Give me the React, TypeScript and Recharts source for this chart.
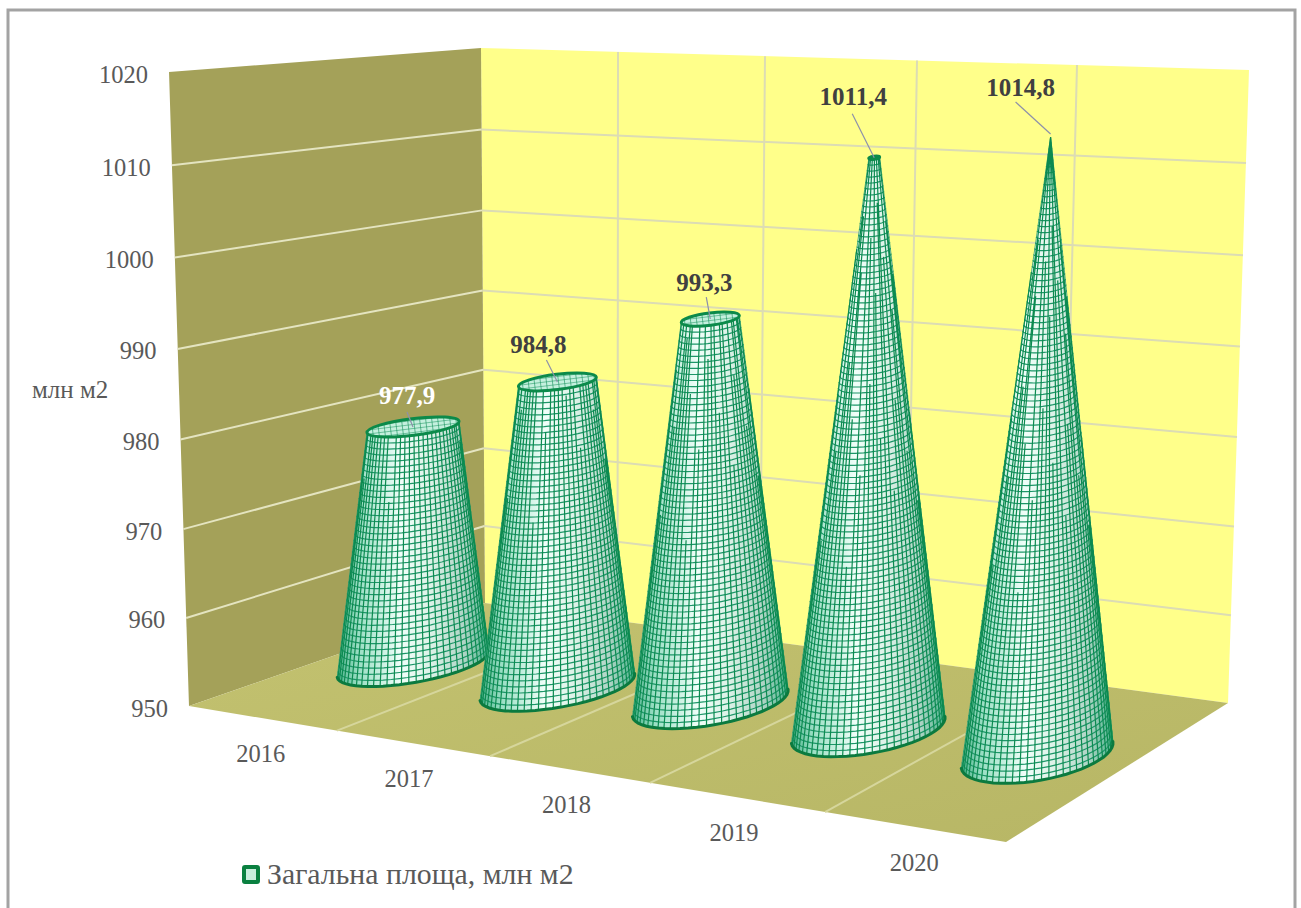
import { Bar, ComposedChart, Customized, LabelList, Legend, XAxis, YAxis } from 'recharts'

const YEARS = ['2016', '2017', '2018', '2019', '2020']
const AREA = [977.9, 984.8, 993.3, 1011.4, 1014.8]
const VALUE_TICKS = [950, 960, 970, 980, 990, 1000, 1010, 1020]
const SERIES_NAME = 'Загальна площа, млн м2'
const UNIT_LABEL = 'млн м2'

const chartData = YEARS.map((year, i) => ({ year, area: AREA[i] }))

const WIDTH = 1301
const HEIGHT = 908
const PLOT = { left: 189, right: 1006, top: 72, bottom: 706 }
const MIN_VALUE = 950
const MAX_VALUE = 1020
const APEX_VALUE = Math.max(...AREA)

const TEXT = '#595959'
const SERIF = '"Liberation Serif", serif'

// fake 3D box: corners of the walls and floor
const BACK = { tl: [481, 48], tr: [1249, 70], bl: [485, 603], br: [1228, 703] }
const FRONT_TOP_LEFT = [169, 72]
const FRONT_BOTTOM_LEFT = [189, 706]
const FRONT_BOTTOM_RIGHT = [1006, 842]
const FLOOR_FRONT_SPLITS = [337, 490, 650, 825]
const BACK_WALL_SPLITS = [618, 765, 917, 1077]

// one entry per category, going from the back of the floor to the front
const DEPTH_SHIFT = [142, 123, 112.5, 107, 112.5]
const DEPTH_LIFT = [-42, -19, -3, 24, 49]
const DEPTH_SCALE = [0.938, 0.968, 0.979, 1.029, 1.053]
const DEPTH_LEAN = [0, 0, 0, 0.0105, 0.0218]
const BASE_RADIUS = [77, 78.5, 79, 78, 77]
const BASE_FLATNESS = [0.24, 0.26, 0.28, 0.3, 0.33]
const LABEL_SHIFT = [
  { dx: -6, dy: -31, lineX: -6, lineY: -15, color: '#ffffff' },
  { dx: -19, dy: -37, lineX: -11, lineY: -22, color: '#404040' },
  { dx: -6, dy: -37, lineX: -4, lineY: -22, color: '#404040' },
  { dx: -21, dy: -61, lineX: -22, lineY: -44, color: '#404040' },
  { dx: -30, dy: -49, lineX: -35, lineY: -32, color: '#404040' },
]
const TICK_SHIFT = [-10, -25, -31, -27, -10]

// vertical foreshortening of the value axis
const foreshorten = (t: number) => t / (1 + 0.034 * (1 - t))
const lerp = (a: number, b: number, s: number) => a + (b - a) * s
const wallY = (top: number, bottom: number, value: number) =>
  bottom - (bottom - top) * foreshorten((value - MIN_VALUE) / (MAX_VALUE - MIN_VALUE))

function Room() {
  const pts = (list: number[][]) => list.map((p) => p.join(',')).join(' ')
  const splitLine = (topX: number, i: number) => {
    const s = (topX - BACK.tl[0]) / (BACK.tr[0] - BACK.tl[0])
    const bottomX = topX + lerp(4, -21, s)
    const topY = lerp(BACK.tl[1], BACK.tr[1], s)
    const bottomY = lerp(BACK.bl[1], BACK.br[1], (bottomX - BACK.bl[0]) / (BACK.br[0] - BACK.bl[0]))
    const frontX = FLOOR_FRONT_SPLITS[i]
    const frontY = FRONT_BOTTOM_LEFT[1] + (frontX - FRONT_BOTTOM_LEFT[0]) * 0.1667
    return (
      <g key={topX}>
        <line x1={topX} y1={topY} x2={bottomX} y2={bottomY} stroke="#dcdcb4" strokeWidth={2} />
        <line x1={bottomX} y1={bottomY} x2={frontX} y2={frontY} stroke="#d6d69c" strokeWidth={2} />
      </g>
    )
  }
  return (
    <g>
      <defs>
        <linearGradient id="coneFill" x1="0" y1="0" x2="1" y2="0">
          <stop offset="0" stopColor="#4fb48e" />
          <stop offset="0.14" stopColor="#9adfc4" />
          <stop offset="0.42" stopColor="#f0fff9" />
          <stop offset="0.62" stopColor="#dcf2e7" />
          <stop offset="0.84" stopColor="#aed4c5" />
          <stop offset="1" stopColor="#4fb48e" />
        </linearGradient>
        <pattern id="coneMesh" width="6" height="4" patternUnits="userSpaceOnUse">
          <rect width="6" height="4" fill="#c4f0de" />
          <path d="M0 0H6M0 0V4" stroke="#119058" strokeWidth="1.2" />
        </pattern>
        <linearGradient id="floorFill" x1="0" y1="0" x2="1" y2="1">
          <stop offset="0" stopColor="#c3c270" />
          <stop offset="1" stopColor="#b7b665" />
        </linearGradient>
      </defs>
      <path d={`M8 ${HEIGHT} V10 H1295 V${HEIGHT}`} fill="none" stroke="#a3a3a3" strokeWidth={3} />
      <polygon points={pts([BACK.tl, BACK.tr, BACK.br, BACK.bl])} fill="#ffff8a" />
      <polygon points={pts([FRONT_TOP_LEFT, BACK.tl, BACK.bl, FRONT_BOTTOM_LEFT])} fill="#a4a159" />
      <polygon points={pts([FRONT_BOTTOM_LEFT, BACK.bl, BACK.br, FRONT_BOTTOM_RIGHT])} fill="url(#floorFill)" />
      {VALUE_TICKS.slice(1, -1).map((v) => {
        const backLeft = wallY(BACK.tl[1], BACK.bl[1], v)
        const s = (v - MIN_VALUE) / (MAX_VALUE - MIN_VALUE)
        return (
          <g key={v}>
            <line
              x1={lerp(FRONT_BOTTOM_LEFT[0], FRONT_TOP_LEFT[0], s)}
              y1={wallY(FRONT_TOP_LEFT[1], FRONT_BOTTOM_LEFT[1], v)}
              x2={lerp(BACK.bl[0], BACK.tl[0], s)}
              y2={backLeft}
              stroke="#e4e4c0"
              strokeWidth={2}
            />
            <line
              x1={lerp(BACK.bl[0], BACK.tl[0], s)}
              y1={backLeft}
              x2={lerp(BACK.br[0], BACK.tr[0], s)}
              y2={wallY(BACK.tr[1], BACK.br[1], v)}
              stroke="#dcdcb4"
              strokeWidth={2}
            />
          </g>
        )
      })}
      {BACK_WALL_SPLITS.map(splitLine)}
    </g>
  )
}

// where a cone really stands once the bar rectangle is pushed into the room
function coneGeometry(x: number, y: number, width: number, height: number, index: number) {
  const cx = x + width / 2 + DEPTH_SHIFT[index]
  const baseY = PLOT.bottom + DEPTH_LIFT[index]
  const rise = height * DEPTH_SCALE[index]
  const value = MIN_VALUE + (height / (PLOT.bottom - PLOT.top)) * (MAX_VALUE - MIN_VALUE)
  const radius = BASE_RADIUS[index]
  const taper = Math.max(APEX_VALUE - value, 0) / (APEX_VALUE - MIN_VALUE)
  return {
    base: { x: cx, y: baseY, a: radius, flat: BASE_FLATNESS[index], rot: -10 },
    top: {
      x: cx + rise * DEPTH_LEAN[index],
      y: baseY - rise,
      a: radius * taper ** 0.9,
      flat: BASE_FLATNESS[index] * 0.75,
      rot: -7,
    },
  }
}

type Ring = { x: number; y: number; a: number; flat: number; rot: number }

const ringAt = (p: Ring, q: Ring, s: number): Ring => ({
  x: lerp(p.x, q.x, s),
  y: lerp(p.y, q.y, s),
  a: lerp(p.a, q.a, s),
  flat: lerp(p.flat, q.flat, s),
  rot: lerp(p.rot, q.rot, s),
})

const ringPoint = (r: Ring, theta: number) => {
  const phi = (r.rot * Math.PI) / 180
  const u = r.a * Math.cos(theta)
  const v = r.a * r.flat * Math.sin(theta)
  return [r.x + u * Math.cos(phi) - v * Math.sin(phi), r.y + u * Math.sin(phi) + v * Math.cos(phi)]
}

const frontArc = (r: Ring) => {
  const cells: string[] = []
  for (let k = 0; k <= 28; k++) {
    const [px, py] = ringPoint(r, (k / 28) * Math.PI)
    cells.push(`${px.toFixed(1)} ${py.toFixed(1)}`)
  }
  return cells
}

const RIB_COUNT = 32

// thin the ribs out towards the tip, each one stopping at its own height so no seam shows
const ribReach = (k: number, base: Ring, top: Ring) => {
  const topShare = top.a / base.a
  const minShare = k % 4 === 0 ? 0 : 0.12 + 0.6 * ((k * 0.618) % 1)
  if (topShare >= minShare) return 1
  return (1 - minShare) / (1 - topShare)
}

function ConeShape(props: any) {
  const { x, y, width, height, index } = props
  const { base, top } = coneGeometry(x, y, width, height, index)
  const baseArc = frontArc(base)
  const topArc = frontArc(top)
  const outline = `M${baseArc.join('L')}L${[...topArc].reverse().join('L')}Z`
  const rise = base.y - top.y

  const rings: string[] = []
  const rowCount = Math.round(rise / 5.8)
  for (let k = 1; k < rowCount; k++) rings.push(`M${frontArc(ringAt(base, top, k / rowCount)).join('L')}`)

  const ribs: string[] = []
  for (let k = 1; k < RIB_COUNT; k++) {
    const theta = (k / RIB_COUNT) * Math.PI
    const [x1, y1] = ringPoint(base, theta)
    const [x2, y2] = ringPoint(ringAt(base, top, ribReach(k, base, top)), theta)
    ribs.push(`M${x1.toFixed(1)} ${y1.toFixed(1)}L${x2.toFixed(1)} ${y2.toFixed(1)}`)
  }

  return (
    <g>
      <path d={outline} fill="url(#coneFill)" stroke="#2a9a70" strokeWidth={0.8} />
      <path d={rings.join('')} fill="none" stroke="#1c9668" strokeWidth={1.2} />
      <path d={ribs.join('')} fill="none" stroke="#0c8a50" strokeWidth={1.2} />
      <path d={`M${baseArc.join('L')}`} fill="none" stroke="#0b7a3f" strokeWidth={3} strokeLinecap="round" />
      {top.a > 0.5 && (
        <ellipse
          cx={top.x}
          cy={top.y}
          rx={top.a}
          ry={Math.max(top.a * top.flat, 1.5)}
          transform={`rotate(${top.rot} ${top.x} ${top.y})`}
          fill="url(#coneMesh)"
          stroke="#0b8a4a"
          strokeWidth={3}
        />
      )}
    </g>
  )
}

function ConeLabel(props: any) {
  const { x, y, width, height, index, value } = props
  const { top } = coneGeometry(x, y, width, height, index)
  const shift = LABEL_SHIFT[index]
  const tipY = top.y - (top.a > 0.5 ? 0 : 3)
  return (
    <g>
      <line x1={top.x + shift.lineX} y1={tipY + shift.lineY} x2={top.x} y2={tipY} stroke="#8d90aa" strokeWidth={1.2} />
      <text
        x={top.x + shift.dx}
        y={top.y + shift.dy}
        textAnchor="middle"
        dominantBaseline="central"
        fontFamily={SERIF}
        fontWeight="bold"
        fontSize={25}
        fill={shift.color}
      >
        {Number(value).toFixed(1).replace('.', ',')}
      </text>
    </g>
  )
}

function ValueTick(props: any) {
  const { payload } = props
  const s = (payload.value - MIN_VALUE) / (MAX_VALUE - MIN_VALUE)
  return (
    <text
      x={lerp(FRONT_BOTTOM_LEFT[0], FRONT_TOP_LEFT[0], s) - 21}
      y={wallY(PLOT.top, PLOT.bottom, payload.value) + 2}
      textAnchor="end"
      dominantBaseline="central"
      fontFamily={SERIF}
      fontSize={24.5}
      fill={TEXT}
    >
      {payload.value}
    </text>
  )
}

function YearTick(props: any) {
  const { x, index, payload } = props
  const tickX = x + TICK_SHIFT[index]
  return (
    <text
      x={tickX}
      y={PLOT.bottom + (tickX - PLOT.left) * 0.1667 + 36}
      textAnchor="middle"
      dominantBaseline="central"
      fontFamily={SERIF}
      fontSize={24.5}
      fill={TEXT}
    >
      {payload.value}
    </text>
  )
}

function LegendRow() {
  return (
    <div style={{ display: 'flex', alignItems: 'center', fontFamily: SERIF, fontSize: 29.8, color: TEXT, lineHeight: '32px', whiteSpace: 'nowrap' }}>
      <span
        style={{
          width: 18,
          height: 19,
          boxSizing: 'border-box',
          borderRadius: 3,
          border: '4px solid #0a8040',
          background: '#c9eedd',
          marginRight: 7,
        }}
      />
      {SERIES_NAME}
    </div>
  )
}

export default function App() {
  return (
    <div style={{ position: 'absolute', left: 0, top: 0, width: WIDTH, height: HEIGHT, overflow: 'hidden', background: '#fff' }}>
      <ComposedChart
        width={WIDTH}
        height={HEIGHT}
        data={chartData}
        margin={{ top: PLOT.top, right: WIDTH - PLOT.right, bottom: 0, left: 0 }}
      >
        <Customized component={Room} />
        <XAxis dataKey="year" height={HEIGHT - PLOT.bottom} axisLine={false} tickLine={false} tick={YearTick} interval={0} />
        <YAxis
          width={PLOT.left}
          domain={[MIN_VALUE, MAX_VALUE]}
          ticks={VALUE_TICKS}
          interval={0}
          axisLine={false}
          tickLine={false}
          tick={ValueTick}
          label={{ value: UNIT_LABEL, position: 'insideLeft', offset: 32, fill: TEXT, fontSize: 25, fontFamily: SERIF }}
        />
        <Legend
          layout="horizontal"
          verticalAlign="middle"
          content={LegendRow}
          wrapperStyle={{ left: 242, top: 858, width: 400 }}
        />
        <Bar dataKey="area" name={SERIES_NAME} barSize={60} shape={ConeShape} isAnimationActive={false}>
          <LabelList dataKey="area" content={ConeLabel} />
        </Bar>
      </ComposedChart>
    </div>
  )
}
